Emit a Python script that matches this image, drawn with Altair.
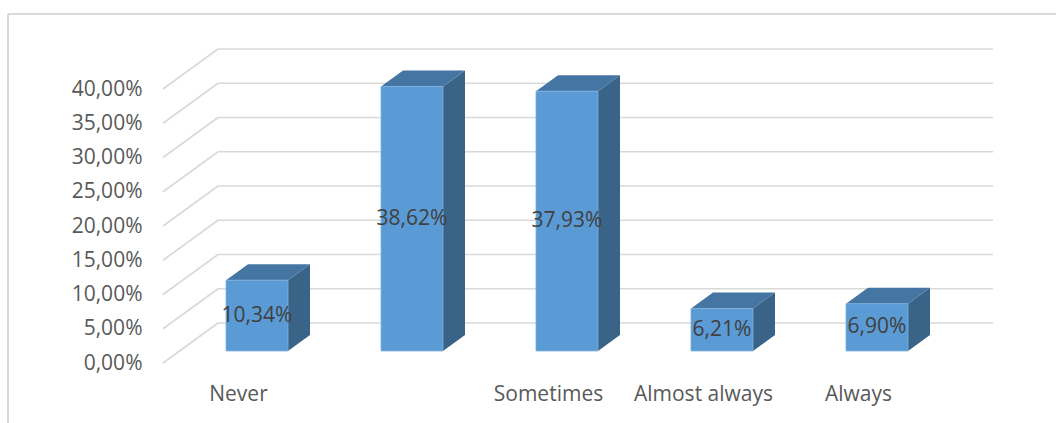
import altair as alt
import pandas as pd

# ---- data ----
labels = ["Never", "", "Sometimes", "Almost always", "Always"]
values = [10.34, 38.62, 37.93, 6.21, 6.90]
tick_values = [0, 5, 10, 15, 20, 25, 30, 35, 40]

# ---- 3D geometry constants (in scale units) ----
WALL_DX = 0.355       # depth shift along x (category units)
WALL_DY = 5.84        # depth shift along y (percent units)
F0, F1 = 0.3, 0.7     # bar depth range (fraction of wall depth)
HALF_W = 0.2          # half bar width (category units)
N = len(values)

front_rows, side_rows, top_rows, text_rows = [], [], [], []
for i, (lab, v) in enumerate(zip(labels, values)):
    cx = i + 0.5 + F0 * WALL_DX
    base = F0 * WALL_DY
    xl, xr = cx - HALF_W, cx + HALF_W
    ddx = (F1 - F0) * WALL_DX
    ddy = (F1 - F0) * WALL_DY
    top = base + v
    front_rows.append(dict(cat=i, x=xl, x2=xr, y=base, y2=top))
    side_rows += [dict(cat=i, x=xr, y=base, y2=top),
                  dict(cat=i, x=xr + ddx, y=base + ddy, y2=top + ddy)]
    top_rows += [dict(cat=i, x=xl, y=top, y2=top),
                 dict(cat=i, x=xl + ddx, y=top, y2=top + ddy),
                 dict(cat=i, x=xr, y=top, y2=top + ddy),
                 dict(cat=i, x=xr + ddx, y=top + ddy, y2=top + ddy)]
    text_rows.append(dict(x=cx, y=base + v / 2,
                          t=f"{v:.2f}".replace(".", ",") + "%"))

cat_df = pd.DataFrame(dict(x=[i + 0.5 for i in range(N)], label=labels))
grid_df = pd.DataFrame(dict(v=tick_values))
grid_df["xb"] = WALL_DX
grid_df["xb2"] = N + WALL_DX
grid_df["yb"] = grid_df["v"] + WALL_DY
grid_df["x0"] = 0.0

xscale = alt.Scale(domain=[0, N + WALL_DX], nice=False, zero=False)
yscale = alt.Scale(domain=[0, 40 + WALL_DY], nice=False, zero=False)
FONT = "Open Sans"
GRID = "#D9D9D9"

yaxis = alt.Axis(
    values=tick_values, domain=False, ticks=False, grid=False, title=None,
    labelExpr="replace(format(datum.value, '.2f'), '.', ',') + '%'",
    labelFont=FONT, labelFontSize=21, labelColor="#595959", labelPadding=21)


def Y(field):
    return alt.Y(field, scale=yscale, axis=yaxis)


def X(field):
    return alt.X(field, scale=xscale, axis=None)


back = alt.Chart(grid_df).mark_rule(color=GRID, strokeWidth=1.6).encode(
    x=X("xb:Q"), x2="xb2:Q", y=Y("yb:Q"))
diag = alt.Chart(grid_df).mark_rule(color=GRID, strokeWidth=1.6).encode(
    x=X("x0:Q"), x2="xb:Q", y=Y("v:Q"), y2="yb:Q")

side = alt.Chart(pd.DataFrame(side_rows)).mark_area(color="#3A6388", opacity=1).encode(
    x=X("x:Q"), y=Y("y:Q"), y2="y2:Q", detail="cat:N")
topf = alt.Chart(pd.DataFrame(top_rows)).mark_area(color="#4575A2", opacity=1).encode(
    x=X("x:Q"), y=Y("y:Q"), y2="y2:Q", detail="cat:N")
front = alt.Chart(pd.DataFrame(front_rows)).mark_rect(
    color="#5B9BD5", stroke="#7FB0E0", strokeWidth=0.8).encode(
    x=X("x:Q"), x2="x2:Q", y=Y("y:Q"), y2="y2:Q")

vals = alt.Chart(pd.DataFrame(text_rows)).mark_text(
    font=FONT, fontSize=21, color="#404040", baseline="middle").encode(
    x=X("x:Q"), y=Y("y:Q"), text="t:N")

cats = alt.Chart(cat_df).mark_text(
    font=FONT, fontSize=21, color="#595959", baseline="middle", dx=-2).encode(
    x=X("x:Q"), y=alt.value(346), text="label:N")

border_top = alt.Chart(cat_df).mark_rule(color=GRID, strokeWidth=1.6).encode(
    x=alt.value(-155), x2=alt.value(900), y=alt.value(-35))
border_left = alt.Chart(cat_df).mark_rule(color=GRID, strokeWidth=1.6).encode(
    x=alt.value(-155), y=alt.value(-35), y2=alt.value(400))

chart = alt.layer(back, diag, side, topf, front, vals, cats, border_top, border_left).properties(
    width=830, height=314,
    padding={"left": 163, "top": 49, "right": 63, "bottom": 60},
    autosize=alt.AutoSizeParams(type="none"),
    background="white",
).configure_view(strokeWidth=0)

chart.save("out.html", embed_options={"renderer": "svg", "actions": False})
